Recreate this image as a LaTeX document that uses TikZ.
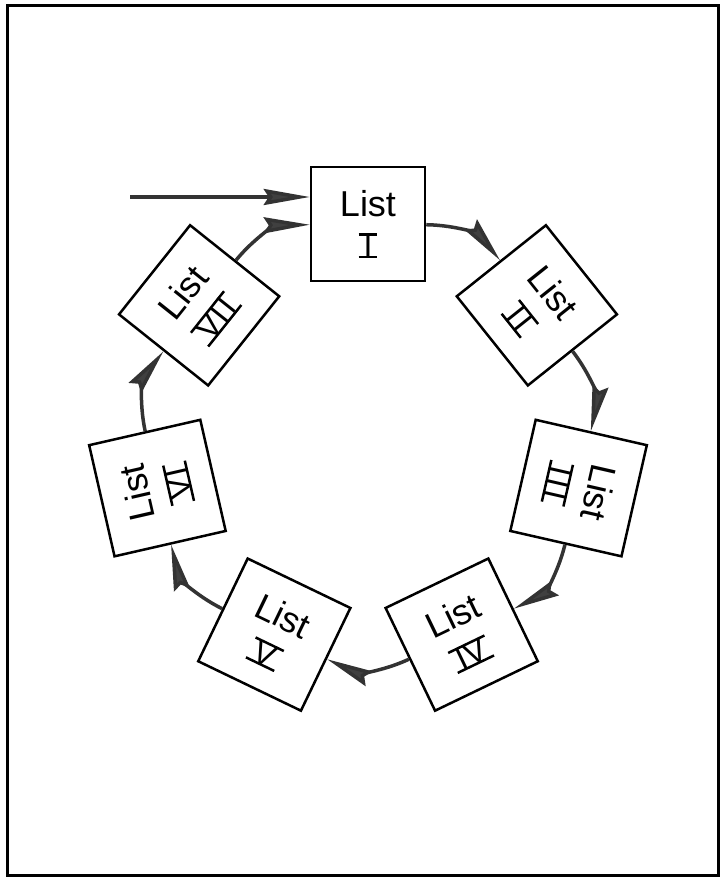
\documentclass[tikz,border=0pt]{standalone}
\usepackage{fontspec}
\setmainfont{Liberation Sans}
\usetikzlibrary{arrows.meta,calc}
\newcommand\rn[1]{\setbox0=\hbox{\fontsize{32}{32}\selectfont #1}%
 \vbox{\hrule height 2.5pt width \dimexpr\wd0+10pt\relax\kern-1.2pt
 \hbox to \dimexpr\wd0+10pt\relax{\hss\copy0\hss}\kern-1.2pt
 \hrule height 2.5pt width \dimexpr\wd0+10pt\relax}}
\begin{document}
\begin{tikzpicture}[x=1pt,y=1pt,
  lst/.style={draw,line width=2.5pt,minimum width=114pt,minimum height=114pt,
    inner sep=0pt,align=center,font=\fontsize{36}{42}\selectfont},
  con/.style={line width=3.5pt,draw=black!80,
    -{Stealth[length=46pt,width=16pt,inset=5pt,fill=black!75]}},
  frame/.style={draw,line width=3pt}]
\useasboundingbox (0,0) rectangle (721,879);
\draw[frame] (7,3) rectangle (718,873);
\coordinate (C) at (368,439);
\node[lst,rotate=0]      (I)   at ($(C)+(90:216)$)      {List\\\rn{I}};
\node[lst,rotate=-51.43] (II)  at ($(C)+(38.57:216)$)   {List\\\rn{I\kern3pt I}};
\node[lst,rotate=-102.86](III) at ($(C)+(-12.86:216)$)  {List\\\rn{I\kern3pt I\kern3pt I}};
\node[lst,rotate=25.71]  (IV)  at ($(C)+(-64.29:216)$)  {List\\\rn{IV}};
\node[lst,rotate=-25.71] (V)   at ($(C)+(-115.71:216)$) {List\\\rn{V}};
\node[lst,rotate=102.86] (VI)  at ($(C)+(-167.14:216)$) {List\\\rn{V\kern1pt I}};
\node[lst,rotate=51.43]  (VII) at ($(C)+(141.43:216)$)  {List\\\rn{V\kern1pt I\kern3pt I}};
\coordinate (inp) at (130,682);
\draw[con] (inp) -- (inp -| I.west);
\draw[con] (I) to[bend left=25] (II);
\draw[con] (II) to[bend left=25] (III);
\draw[con] (III) to[bend left=25] (IV);
\draw[con] (IV) to[bend left=25] (V);
\draw[con] (V) to[bend left=25] (VI);
\draw[con] (VI) to[bend left=25] (VII);
\draw[con] (VII) to[bend left=25] (I);
\end{tikzpicture}
\end{document}
